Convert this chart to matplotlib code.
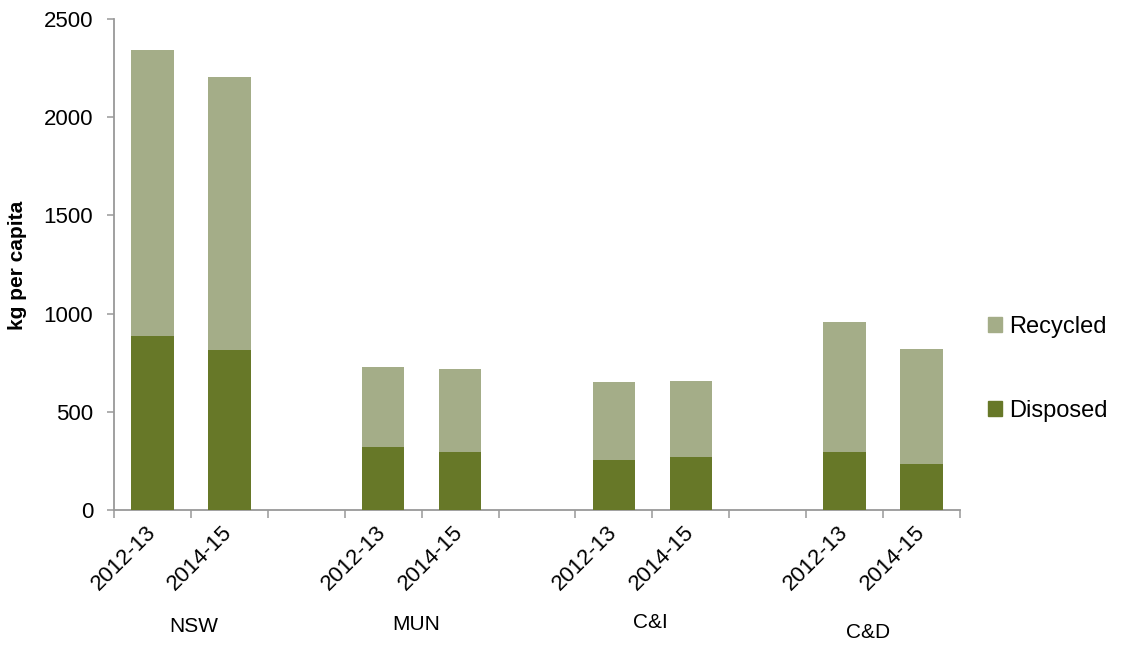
import matplotlib
matplotlib.use("Agg")
import matplotlib.pyplot as plt
from matplotlib.patches import Patch
import numpy as np

plt.rcParams['font.family'] = ['Liberation Sans', 'DejaVu Sans']

groups = ["NSW", "MUN", "C&I", "C&D"]
periods = ["2012-13", "2014-15"]
disposed = [886, 815, 321, 297, 255, 271, 295, 236]
totals = [2342, 2203, 728, 720, 652, 657, 957, 821]
recycled = [t - d for t, d in zip(totals, disposed)]

col_rec = "#A4AD88"
col_dis = "#677828"
axis_col = "#999999"

fig = plt.figure(figsize=(11.29, 6.46), dpi=100)
ax = fig.add_axes([114/1129, 1-510/646, (960-114)/1129, (510-19)/646])

# positions: 2 bars per group, a blank slot between groups
pos = []
for g in range(len(groups)):
    for p in range(len(periods)):
        pos.append(g * 3 + p)
pos = np.array(pos)

w = 0.55
ax.bar(pos, disposed, width=w, color=col_dis, label="Disposed", zorder=3)
ax.bar(pos, recycled, width=w, bottom=disposed, color=col_rec, label="Recycled", zorder=3)

ax.set_xlim(-0.5, 10.5)
ax.set_ylim(0, 2500)
ax.set_yticks([0, 500, 1000, 1500, 2000, 2500])
ax.tick_params(axis='y', direction='out', length=5, width=1.1, color=axis_col,
               labelsize=16, pad=10)

ax.set_xticks(pos)
ax.set_xticklabels(periods * len(groups), rotation=45, ha='right', va='center',
                   rotation_mode='anchor', fontsize=16)
ax.tick_params(axis='x', which='major', length=0, pad=14)
ax.set_xticks(np.arange(-0.5, 11, 1.0), minor=True)
ax.tick_params(axis='x', which='minor', direction='out', length=6, width=1.1, color=axis_col)

for s in ['top', 'right']:
    ax.spines[s].set_visible(False)
for s in ['left', 'bottom']:
    ax.spines[s].set_color(axis_col)
    ax.spines[s].set_linewidth(1.3)

# group labels
group_x = [194, 416, 650, 868]
group_y = [627, 625, 623, 633]
for name, gx, gy in zip(groups, group_x, group_y):
    fig.text(gx / 1129, 1 - gy / 646, name, ha='center', va='center', fontsize=15)

fig.text(18 / 1129, 1 - 265 / 646, "kg per capita", rotation=90, ha='center', va='center',
         fontsize=15, fontweight='bold')

handles = [Patch(color=col_rec), Patch(color=col_dis)]
leg = fig.legend(handles, ["Recycled", "Disposed"], loc='center left',
                 bbox_to_anchor=(988 / 1129, 1 - 369 / 646), frameon=False,
                 fontsize=17, handlelength=0.6, handleheight=0.6,
                 handletextpad=0.3, labelspacing=2.6, borderpad=0, borderaxespad=0)

fig.savefig("out.png", dpi=100)
